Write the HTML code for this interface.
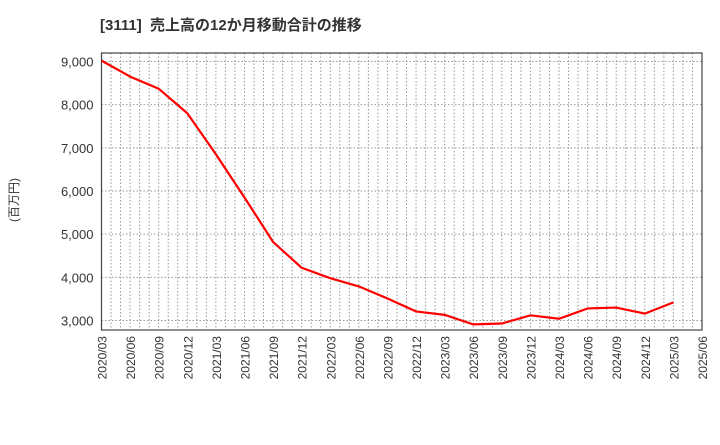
<!DOCTYPE html>
<html><head><meta charset="utf-8"><style>
body{margin:0;background:#fff;font-family:"Liberation Sans","Noto Sans CJK JP",sans-serif;}
svg text{font-family:"Liberation Sans","Noto Sans CJK JP",sans-serif;}
</style></head><body>
<svg id="c" width="720" height="440" xmlns="http://www.w3.org/2000/svg">
<text x="100" y="30" font-size="15" font-weight="bold" fill="#333" xml:space="preserve">[3111]  売上高の12か月移動合計の推移</text>
<text transform="translate(18,200) rotate(-90)" font-size="12" fill="#333" text-anchor="middle">(百万円)</text>
<g id="grid"></g><g id="axes"></g><g id="series"></g>
</svg>
<script>
const categories=["2020/03","2020/06","2020/09","2020/12","2021/03","2021/06","2021/09","2021/12","2022/03","2022/06","2022/09","2022/12","2023/03","2023/06","2023/09","2023/12","2024/03","2024/06","2024/09","2024/12","2025/03"];
const values=[9020,8650,8370,7800,6850,5850,4820,4220,3980,3790,3510,3210,3130,2910,2930,3120,3040,3280,3300,3160,3420];
const xTickLabels=["2020/03","2020/06","2020/09","2020/12","2021/03","2021/06","2021/09","2021/12","2022/03","2022/06","2022/09","2022/12","2023/03","2023/06","2023/09","2023/12","2024/03","2024/06","2024/09","2024/12","2025/03","2025/06"];
const yTicks=[3000,4000,5000,6000,7000,8000,9000];
const NS="http://www.w3.org/2000/svg";
const L=101.5,R=702,T=53,B=330;
const q=(R-L)/21;
const x=i=>L+i*q;
const y=v=>320.5-(v-3000)*0.04317;
function mk(t,a,p){const e=document.createElementNS(NS,t);for(const k in a)e.setAttribute(k,a[k]);p.appendChild(e);return e;}
const grid=document.getElementById('grid'),axes=document.getElementById('axes'),ser=document.getElementById('series');
for(let m=1;m<63;m++){const xx=L+m*q/3;
const g=mk('line',{x1:xx,x2:xx,y1:T,y2:B,stroke:'#999','stroke-dasharray':'1.5,2','stroke-width':1},grid);

}
yTicks.forEach(v=>{const g=mk('line',{x1:L,x2:R,y1:y(v),y2:y(v),stroke:'#999','stroke-dasharray':'1.5,2','stroke-width':1},grid);


const t=mk('text',{x:L-8,y:y(v)+5,'font-size':13,fill:'#333','text-anchor':'end'},axes);t.textContent=v.toLocaleString('en-US');

});
xTickLabels.forEach((s,i)=>{const t=mk('text',{transform:`translate(${x(i)+5},${B+6}) rotate(-90)`,'font-size':12,fill:'#333','text-anchor':'end'},axes);t.textContent=s;

});
const fr=mk('rect',{x:L,y:T,width:R-L,height:B-T,fill:'none',stroke:'#444','stroke-width':1.2},axes);


const p=mk('polyline',{points:values.map((v,i)=>x(i)+','+y(v)).join(' '),fill:'none',stroke:'#f00','stroke-width':2.2},ser);


</script>
</body></html>
